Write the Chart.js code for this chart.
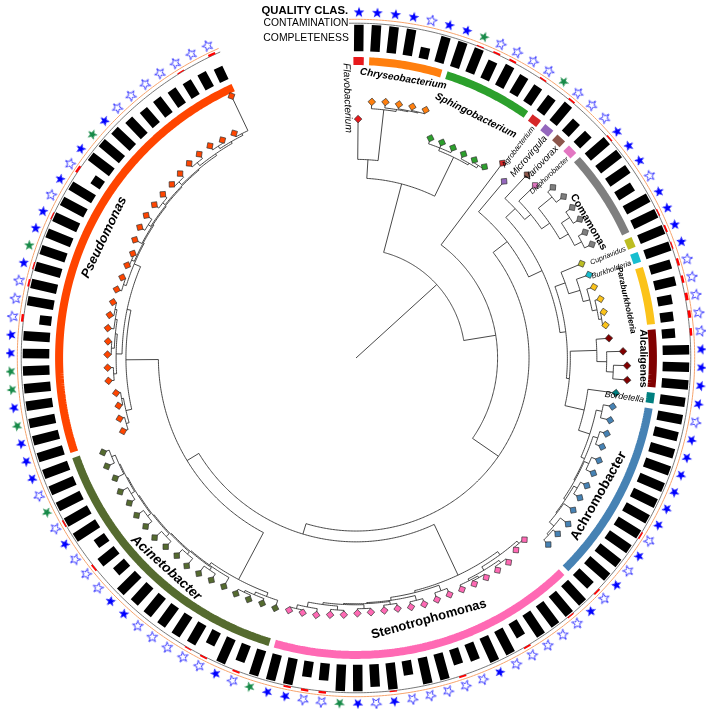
<!DOCTYPE html>
<html>
<head>
<meta charset="utf-8">
<title>Genome tree with quality rings</title>
<script src="https://cdn.jsdelivr.net/npm/chart.js@4.4.1/dist/chart.umd.min.js"></script>
<style>
  html, body { margin: 0; padding: 0; background: #fff; }
  canvas { display: block; }
</style>
</head>
<body>
<canvas id="tree" width="712" height="715"></canvas>
<script>
/* ---- data (tips are listed clockwise, starting at the top) ---- */

const genera = ['Flavobacterium', 'Chryseobacterium', 'Sphingobacterium', 'Agrobacterium', 'Microvirgula',
  'Variovorax', 'Diaphorobacter', 'Comamonas', 'Cupriavidus', 'Burkholderia', 'Paraburkholderia',
  'Alcaligenes', 'Bordetella', 'Achromobacter', 'Stenotrophomonas', 'Acinetobacter', 'Pseudomonas'];
const genusCounts = [1, 5, 6, 1, 1, 1, 1, 6, 1, 1, 4, 4, 1, 12, 20, 18, 28];
const genusColors = ['#e8191c', '#ff7f0e', '#2ca02c', '#d62728', '#9467bd', '#8c564b', '#e377c2', '#7f7f7f',
  '#bcbd22', '#17becf', '#fbc31a', '#800000', '#008080', '#4682b4', '#ff69b4', '#556b2f', '#ff4500'];

// completeness, % of the full bar
const completeness = [
  100, 100, 100, 100, 42, 100, 100, 98, 75, 88, 80, 75, 72, 90, 62, 60, 95, 100, 92, 70,
  100, 100, 100, 100, 82, 82, 55, 50, 50, 100, 100, 100, 95, 95, 92, 95, 100, 100, 100, 100,
  100, 100, 100, 100, 75, 100, 100, 100, 100, 62, 100, 100, 68, 60, 100, 100, 55, 100, 85, 100,
  100, 65, 60, 100, 100, 100, 68, 100, 55, 85, 90, 90, 90, 88, 95, 55, 78, 48, 100, 100,
  100, 100, 100, 100, 100, 100, 100, 100, 100, 100, 100, 45, 100, 100, 100, 100, 100, 100, 100, 100,
  42, 100, 100, 95, 85, 75, 75, 70, 65, 65, 55];

// contamination, %
const contamination = [
  0, 0, 0, 0, 0, 0, 0, 0.8, 1.5, 1.5, 0, 1.2, 0, 1.5, 0, 0, 1.2, 0, 0, 0,
  0, 1, 1.5, 1, 2, 2, 2.5, 2.5, 2, 0, 0, 0, 0, 0, 0, 0, 0, 0, 0, 0,
  1.2, 0, 0, 0, 1.5, 0, 1, 0, 0, 1.5, 0, 0, 0, 1.5, 0, 0, 0, 1, 0, 0,
  0, 2, 2, 1.5, 0, 0, 1.5, 0, 1.5, 1, 0, 0, 0, 0, 0, 0, 1.5, 0, 0, 1.2,
  0, 0, 0, 0, 0, 0, 0, 0, 0, 0, 0, 2, 0, 1.5, 1, 0, 0, 1, 0, 0,
  2, 0, 0, 0, 0, 0, 0, 0, 1, 0, 2];

// quality class: H high (filled blue), M medium (open), L (green)
const quality = [
  'H', 'H', 'H', 'H', 'M', 'H', 'H', 'L', 'M', 'M', 'M', 'M', 'L', 'M', 'M', 'M', 'H', 'H', 'H', 'M',
  'H', 'H', 'H', 'H', 'M', 'M', 'M', 'M', 'M', 'H', 'H', 'H', 'H', 'M', 'H', 'H', 'H', 'H', 'H', 'H',
  'M', 'H', 'M', 'H', 'M', 'H', 'M', 'M', 'M', 'M', 'M', 'H', 'M', 'M', 'M', 'M', 'M', 'H', 'M', 'H',
  'L', 'M', 'M', 'H', 'H', 'L', 'M', 'H', 'M', 'M', 'M', 'M', 'M', 'H', 'H', 'M', 'M', 'M', 'H', 'M',
  'L', 'M', 'H', 'H', 'H', 'L', 'H', 'L', 'L', 'H', 'H', 'M', 'M', 'M', 'H', 'L', 'H', 'H', 'M', 'H',
  'M', 'H', 'L', 'H', 'M', 'M', 'M', 'M', 'M', 'M', 'M'];

// tree: an internal node is [depth, ...children], a bare number is a tip depth
const bacteroidetes = [183,
  [202, 243, [254, 261, [256, 262, [257, 261.6, [258, 262, 262]]]]],
  [227, [230, 236, 236, 235.5], [229, 234.5, [232, 234.7, 234.3]]]];
const comamonadaceae = [222, 255, [230, 253, [240, [258, 265, 267.5], [250, [260, 268, 268], [258, 265.8, 266.4]]]]];
const burkholderiaceae = [226, 248.7, [238, 251.7, [245, 252.6, [250, 255.8, [253, 256.3, 256]]]]];
const alcaligenesClade = [245, 258, [255, 271.7, [262, 275.8, 276.7]]];
const achromobacterClade = [250, [256, 265.7, 266.1],
  [254, [259, 266.4, 266.2],
    [255, [260, 268.2, 268.4],
      [257, [261, 268.3, 268.4],
        [258, 269.7, [264, 274, [266, 272.2, 272.5]]]]]]];
const stenoClade = [244,
  [248, [251, 252, 254.2], [252, [255, 259.4, 259.5], [254, [256, 259.6, 259.3], 258.9]]],
  [246, [252, 258.7, 259.2],
    [249, [254, 259.9, 259.4],
      [250, [253, 258.4, 258.4],
        [251, [255, 259, 259.7],
          [253, [257, 261.4, 262.5], [258, 264.5, [262, 264.7, 265.4]]]]]]]];
const acinetoClade = [255,
  [259, 267.3, [262, 267.2, [264, 268.7, 269.1]]],
  [258, 268.4,
    [259, [262, 269.6, 271.4],
      [260, [263, 272.7, 271.4],
        [261, [265, 272.6, 274.5],
          [262, [266, 274.1, 274.6],
            [263, [267, 273.7, 275.7], [264, 273.7, [268, 276.3, 274.6]]]]]]]]];
const pseudoClade = [234,
  [240, [243, 248.4, 248.2], [242, 246.3, 246.6]],
  [238,
    [244, [247, 252.8, 252.8], [246, [249, 252.8, 252.8], [248, 254.2, [250, 254.3, 253.6]]]],
    [245, [248, 253.2, 251.5],
      [246, [249, 251.2, 250.6],
        [247, 255,
          [248, [251, 257, 258],
            [249, [252, 257.6, 257.5],
              [250, [254, 257.4, 259.2],
                [252, [256, 260.7, 261.6],
                  [254, [257, 262, 260], [256, 260, 295]]]]]]]]]]];
const betaClade = [194, 234.5,
  [209, comamonadaceae, [215, burkholderiaceae, [218, alcaligenesClade, [238, 266.7, achromobacterClade]]]]];
const gammaClade = [187, stenoClade, [201, acinetoClade, pseudoClade]];
const tree = [111, bacteroidetes, [144, 248, [176, betaClade, gammaClade]]];

/* ---- polar layout ---- */

const DEG = Math.PI / 180;
const A0 = 0.5, STEP = 3.037;            // first tip angle and tip spacing, degrees clockwise from top
const R_GENUS = 302, R_BAR = 312, BAR_LEN = 27;
const R_CONT = 340.5, CONT_PX = 1.2, R_RING = 344.5, R_STAR = 351.5;
const FONT = '"Liberation Sans", Arial, Helvetica, sans-serif';

const tipAngle = (i) => A0 + STEP * i;
const pt = (r, a) => ({ x: r * Math.sin(a * DEG), y: r * Math.cos(a * DEG) });
const gap = () => ({ x: null, y: null });

function arc(r, a1, a2, out) {
  const n = Math.max(1, Math.ceil((a2 - a1) / 0.5));
  for (let k = 0; k <= n; k++) out.push(pt(r, a1 + (a2 - a1) * k / n));
  out.push(gap());
  return out;
}

const treeLines = [];
const tipDepth = [];
function place(node) {
  if (typeof node === 'number') {
    const i = tipDepth.length;
    tipDepth.push(node);
    return { r: node, a: tipAngle(i) };
  }
  const r = node[0];
  const kids = node.slice(1).map(place);
  const angs = kids.map((k) => k.a);
  arc(r, Math.min(...angs), Math.max(...angs), treeLines);
  kids.forEach((k) => treeLines.push(pt(r, k.a), pt(k.r, k.a), gap()));
  return { r, a: angs.reduce((s, v) => s + v, 0) / angs.length };
}
const root = place(tree);
treeLines.push(pt(0, root.a), pt(root.r, root.a), gap());

const nTips = tipDepth.length;
if (nTips !== completeness.length) console.warn('tip count mismatch', nTips, completeness.length);

// genus of each tip
const tipGenus = [];
genusCounts.forEach((c, g) => { for (let k = 0; k < c; k++) tipGenus.push(g); });
const genusFirst = genusCounts.map((c, g) => genusCounts.slice(0, g).reduce((s, v) => s + v, 0));

/* ---- datasets ---- */

// the long dash keeps Chart.js off its pixel-merging fast path, which spikes thick short segments
const lineSet = (data, color, width, extra = {}) => Object.assign({
  data, showLine: true, borderColor: color, borderWidth: width, pointRadius: 0,
  borderCapStyle: 'butt', borderJoinStyle: 'bevel', borderDash: [4000, 1], spanGaps: false, fill: false,
}, extra);

const barPts = [], contPts = [];
for (let i = 0; i < nTips; i++) {
  const a = tipAngle(i);
  barPts.push(pt(R_BAR, a), pt(R_BAR + BAR_LEN * completeness[i] / 100, a), gap());
  if (contamination[i] > 0) contPts.push(pt(R_CONT, a), pt(R_CONT + CONT_PX * contamination[i], a), gap());
}

const genusSets = genera.map((g, k) => {
  const a1 = tipAngle(genusFirst[k]) - 1.0;
  const a2 = tipAngle(genusFirst[k] + genusCounts[k] - 1) + 1.0;
  return lineSet(arc(R_GENUS, a1, a2, []), genusColors[k], 8);
});

function starImage(fill, stroke) {
  const c = document.createElement('canvas');
  c.width = c.height = 14;
  const g = c.getContext('2d');
  g.beginPath();
  for (let k = 0; k < 10; k++) {
    const rr = k % 2 ? 2.3 : 5.6;
    const t = -Math.PI / 2 + k * Math.PI / 5;
    g.lineTo(7 + rr * Math.cos(t), 7 + rr * Math.sin(t));
  }
  g.closePath();
  g.fillStyle = fill;
  g.fill();
  if (stroke) { g.strokeStyle = stroke; g.lineWidth = 0.9; g.stroke(); }
  return c;
}
const STAR_STYLE = { H: starImage('#0000ff'), M: starImage('#ffffff', '#2a2aff'), L: starImage('#178a48') };

const starSets = ['H', 'M', 'L'].map((q) => {
  const idx = quality.map((v, i) => (v === q ? i : -1)).filter((i) => i >= 0);
  return {
    data: idx.map((i) => pt(R_STAR, tipAngle(i))),
    pointStyle: STAR_STYLE[q],
    pointRadius: 5,
    pointRotation: idx.map((i) => tipAngle(i)),
  };
});

const tipSet = {
  data: tipDepth.map((r, i) => pt(r, tipAngle(i))),
  pointStyle: 'rectRot',
  pointRadius: 3.8,
  pointRotation: tipDepth.map((r, i) => tipAngle(i)),
  pointBackgroundColor: tipGenus.map((g) => genusColors[g]),
  pointBorderColor: '#333',
  pointBorderWidth: 0.7,
};

const ringEnd = tipAngle(nTips - 1) + 1.5;
const datasets = [
  tipSet,
  ...starSets,
  lineSet(contPts, '#ff0000', 7.5),
  lineSet(arc(R_RING, -1.2, ringEnd, []), '#f6a36c', 1),
  lineSet(arc(R_CONT, -1.2, ringEnd, []), '#555555', 0.8),
  lineSet(barPts, '#000000', 9.5),
  ...genusSets,
  lineSet(treeLines, '#333333', 0.9),
];

/* ---- text ---- */

const CLADE_LABELS = {
  Chryseobacterium: { r: 288, size: 10, italic: true, da: 0 },
  Sphingobacterium: { r: 275, size: 10.2, italic: true, da: 0 },
  Comamonas: { r: 274, size: 10.5, italic: false, da: 3 },
  Paraburkholderia: { r: 281, size: 8.3, italic: true, da: 0 },
  Alcaligenes: { r: 292, size: 10.5, italic: false, da: 0 },
  Achromobacter: { r: 284, size: 13.5, italic: false, da: 2.2 },
  Stenotrophomonas: { r: 276, size: 13, italic: false, da: -1.6 },
  Acinetobacter: { r: 288, size: 13.5, italic: true, da: -1.6 },
  Pseudomonas: { r: 284, size: 13, italic: true, da: 2 },
};
const SINGLE_SIZE = { Agrobacterium: 7.6, Microvirgula: 9.5, Variovorax: 9.3, Diaphorobacter: 7.4,
  Cupriavidus: 7.2, Burkholderia: 7.4, Bordetella: 8.8 };

function tangentRot(a) {
  if (a <= 100) return a;
  if (a < 260) return a - 180;
  return a - 360;
}

const labelPlugin = {
  id: 'treeLabels',
  afterDatasetsDraw(chart) {
    const { ctx } = chart;
    const sx = chart.scales.x, sy = chart.scales.y;
    const put = (text, r, a, rot, font, align, base) => {
      const p = pt(r, a);
      ctx.save();
      ctx.translate(sx.getPixelForValue(p.x), sy.getPixelForValue(p.y));
      ctx.rotate(rot * DEG);
      ctx.font = font;
      ctx.fillStyle = '#000';
      ctx.textAlign = align;
      ctx.textBaseline = base || 'middle';
      ctx.fillText(text, 0, 0);
      ctx.restore();
    };

    genera.forEach((name, k) => {
      const a1 = tipAngle(genusFirst[k]);
      const a2 = tipAngle(genusFirst[k] + genusCounts[k] - 1);
      const st = CLADE_LABELS[name];
      if (st) {
        const a = (a1 + a2) / 2 + st.da;
        put(name, st.r, a, tangentRot(a), `${st.italic ? 'italic ' : ''}bold ${st.size}px ${FONT}`, 'center');
      } else if (name === 'Flavobacterium') {
        put(name, 300, a1 - 2.4, a1 + 87.6, `italic 10.2px ${FONT}`, 'left');
      } else {
        put(name, 296, a1 + 0.6, a1 + 0.6 - 90, `italic ${SINGLE_SIZE[name]}px ${FONT}`, 'right');
      }
    });

    put('QUALITY CLAS.', 350, -1.3, 0, `bold 11.3px ${FONT}`, 'right', 'alphabetic');
    put('CONTAMINATION', 338, -1.3, 0, `10.3px ${FONT}`, 'right', 'alphabetic');
    put('COMPLETENESS', 322.3, -1.3, 0, `10.4px ${FONT}`, 'right', 'alphabetic');
  },
};

new Chart(document.getElementById('tree'), {
  type: 'scatter',
  data: { datasets },
  options: {
    responsive: false,
    animation: false,
    devicePixelRatio: 1,
    events: [],
    layout: { padding: 0 },
    scales: {
      x: { type: 'linear', min: -356, max: 356, display: false },
      y: { type: 'linear', min: -357, max: 358, display: false },
    },
    plugins: { legend: { display: false }, tooltip: { enabled: false } },
  },
  plugins: [labelPlugin],
});
</script>
</body>
</html>
